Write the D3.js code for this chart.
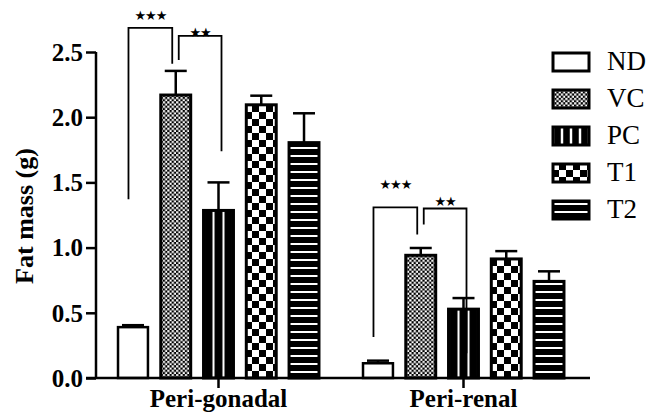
<!DOCTYPE html>
<html>
<head>
<meta charset="utf-8">
<script src="https://cdn.jsdelivr.net/npm/d3@7"></script>
<style>
  html, body { margin: 0; padding: 0; background: #fff; }
  svg text { font-family: "Liberation Serif", "Times New Roman", serif; fill: #000; }
</style>
</head>
<body>
<svg id="chart" width="661" height="415"></svg>
<script>
// values
var groups = ["Peri-gonadal", "Peri-renal"];
var series = ["ND", "VC", "PC", "T1", "T2"];
var gonadalMean = [0.39, 2.17, 1.285, 2.095, 1.805];
var gonadalErr  = [0.015, 0.185, 0.215, 0.07, 0.225];
var renalMean   = [0.113, 0.941, 0.528, 0.913, 0.741];
var renalErr    = [0.02, 0.056, 0.085, 0.06, 0.077];
var yTicks = [0, 0.5, 1.0, 1.5, 2.0, 2.5];

// significance brackets: [group, from, to, label, top, leftLegEnd, rightLegEnd, labelY]
var brackets = [
  ["Peri-gonadal", "ND", "VC", "***", 2.685, 1.37, 2.41, 2.79],
  ["Peri-gonadal", "VC", "PC", "**", 2.623, 2.438, 1.738, 2.66],
  ["Peri-renal", "ND", "VC", "***", 1.308, 0.315, 1.10, 1.49],
  ["Peri-renal", "VC", "PC", "**", 1.30, 1.177, 0.19, 1.36]
];

var svg = d3.select("#chart")
  , serif = '"Liberation Serif", "Times New Roman", serif';

var rows = [];
groups.forEach(function(g, gi) {
  var means = gi === 0 ? gonadalMean : renalMean
    , errs  = gi === 0 ? gonadalErr : renalErr;
  series.forEach(function(s, si) {
    rows.push({group: g, series: s, mean: means[si], err: errs[si]});
  });
});

var x0 = d3.scaleBand().domain(groups).range([96, 586]);
var x1 = d3.scaleBand().domain(series).range([-106.9, 106.9])
  .paddingInner(0.3).paddingOuter(0.15);
var y = d3.scaleLinear().domain([0, 2.5]).range([378, 52]);

// fill patterns
var defs = svg.append("defs");

var p = defs.append("pattern").attr("id", "pat-VC").attr("patternUnits", "userSpaceOnUse")
  .attr("width", 4.4).attr("height", 4.4);
p.append("rect").attr("width", 4.4).attr("height", 4.4).attr("fill", "#000");
p.append("rect").attr("x", 0.1).attr("y", 0.1).attr("width", 2.2).attr("height", 2.2).attr("fill", "#fff");
p.append("rect").attr("x", 2.3).attr("y", 2.3).attr("width", 2.2).attr("height", 2.2).attr("fill", "#fff");

// vertical stripes, tile aligned to each bar so stripes sit either side of centre
function stripePattern(id, n) {
  var pp = defs.append("pattern").attr("id", id)
    .attr("patternUnits", "objectBoundingBox")
    .attr("patternContentUnits", "objectBoundingBox")
    .attr("width", 1 / n).attr("height", 1);
  pp.append("rect").attr("width", 1 / n).attr("height", 1).attr("fill", "#000");
  pp.append("rect").attr("width", 0.034).attr("height", 1).attr("fill", "#fff");
  pp.append("rect").attr("x", 1 / n - 0.034).attr("width", 0.034).attr("height", 1).attr("fill", "#fff");
}
stripePattern("pat-PC", 3);
stripePattern("pat-PC-legend", 4);

p = defs.append("pattern").attr("id", "pat-T1").attr("patternUnits", "userSpaceOnUse")
  .attr("width", 14).attr("height", 14);
p.append("rect").attr("width", 14).attr("height", 14).attr("fill", "#000");
p.append("rect").attr("x", 0).attr("y", 0).attr("width", 7).attr("height", 7).attr("fill", "#fff");
p.append("rect").attr("x", 7).attr("y", 7).attr("width", 7).attr("height", 7).attr("fill", "#fff");

p = defs.append("pattern").attr("id", "pat-T2").attr("patternUnits", "userSpaceOnUse")
  .attr("width", 8).attr("height", 8);
p.append("rect").attr("width", 8).attr("height", 8).attr("fill", "#000");
p.append("rect").attr("y", 3).attr("width", 8).attr("height", 2).attr("fill", "#fff");

function fillFor(s, legend) {
  if(s === "ND") return "#fff";
  if(s === "PC" && legend) return "url(#pat-PC-legend)";
  return "url(#pat-" + s + ")";
}
function cx(g, s) { return x0(g) + x0.bandwidth() / 2 + x1(s) + x1.bandwidth() / 2; }

// bars
svg.append("g").selectAll("rect")
  .data(rows)
  .enter().append("rect")
    .attr("x", function(d) { return x0(d.group) + x0.bandwidth() / 2 + x1(d.series); })
    .attr("y", function(d) { return y(d.mean); })
    .attr("width", x1.bandwidth())
    .attr("height", function(d) { return y(0) - y(d.mean); })
    .attr("fill", function(d) { return fillFor(d.series); })
    .attr("stroke", "#000")
    .attr("stroke-width", function(d) { return d.series === "ND" ? 2.5 : 3; });

// error bars (upper only)
var eb = svg.append("g").attr("stroke", "#000").attr("stroke-width", 2.5);
rows.forEach(function(d) {
  var c = cx(d.group, d.series);
  eb.append("line").attr("x1", c).attr("x2", c).attr("y1", y(d.mean)).attr("y2", y(d.mean + d.err));
  eb.append("line").attr("x1", c - 11).attr("x2", c + 11)
    .attr("y1", y(d.mean + d.err)).attr("y2", y(d.mean + d.err));
});

// y axis
var yAxis = svg.append("g").attr("transform", "translate(96,0)")
  .call(d3.axisLeft(y).tickValues(yTicks).tickFormat(d3.format(".1f")).tickSize(10).tickPadding(3));
yAxis.select(".domain").attr("stroke-width", 2.5).attr("d", "M0," + y(2.5) + "V" + (y(0) + 1));
yAxis.selectAll(".tick line").attr("stroke-width", 2.5);
yAxis.selectAll(".tick text")
  .style("font-family", serif)
  .style("font-weight", "bold").style("font-size", "25px").attr("dy", "0.33em");

// x axis
var xAxis = svg.append("g").attr("transform", "translate(0,378)")
  .call(d3.axisBottom(x0).tickSize(10).tickPadding(6));
xAxis.select(".domain").attr("stroke-width", 2.5).attr("d", "M86,0H590");
xAxis.selectAll(".tick line").attr("stroke-width", 2.5);
xAxis.selectAll(".tick text")
  .style("font-family", serif)
  .style("font-weight", "bold").style("font-size", "25px").attr("y", 29).attr("dy", 0);

// y label
svg.append("text")
  .attr("transform", "translate(33,216) rotate(-90)")
  .attr("text-anchor", "middle")
  .style("font-weight", "bold").style("font-size", "26px")
  .text("Fat mass (g)");

// significance brackets
var br = svg.append("g");
brackets.forEach(function(b) {
  var off = b[3] === "***" ? [-4.5, -3.5] : [3, 3]
    , xl = cx(b[0], b[1]) + off[0]
    , xr = cx(b[0], b[2]) + off[1];
  br.append("path")
    .attr("d", "M" + xl + "," + y(b[5]) + "V" + y(b[4]) + "H" + xr + "V" + y(b[6]))
    .attr("fill", "none").attr("stroke", "#000").attr("stroke-width", 1.8);
  br.append("text")
    .attr("x", (xl + xr) / 2).attr("y", y(b[7]) + 5.5)
    .attr("text-anchor", "middle")
    .style("font-family", '"DejaVu Sans", sans-serif').style("font-size", "13px")
    .style("letter-spacing", "-1px")
    .text(b[3].replace(/\*/g, "\u2605"));
});

// legend
var legend = svg.append("g").attr("transform", "translate(552,52)");
var li = legend.selectAll("g").data(series).enter().append("g")
  .attr("transform", function(d, i) { return "translate(0," + (i * 37) + ")"; });
li.append("rect")
  .attr("x", 1).attr("y", 1).attr("width", 36).attr("height", 18)
  .attr("fill", function(d) { return fillFor(d, true); })
  .attr("stroke", "#000").attr("stroke-width", 3);
li.append("text")
  .attr("x", 55).attr("y", 18)
  .style("font-size", "27px")
  .text(function(d) { return d; });
</script>
</body>
</html>
